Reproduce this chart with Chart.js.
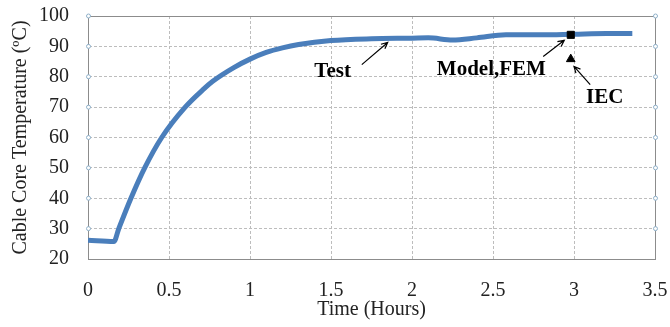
<!DOCTYPE html>
<html>
<head>
<meta charset="utf-8">
<script src="https://cdn.jsdelivr.net/npm/chart.js@4/dist/chart.umd.min.js"></script>
<style>
  html, body { margin: 0; padding: 0; background: #fff; }
  #wrap { width: 670px; height: 327px; }
</style>
</head>
<body>
<div id="wrap"><canvas id="tempChart"></canvas></div>
<script>
// measured test curve (hours, degC)
const timeHours = [0, 0.16, 0.19, 0.265, 0.35, 0.455, 0.6, 0.715, 0.77, 0.9, 1.0, 1.1, 1.2, 1.3, 1.5, 1.75, 2.0, 2.1, 2.25, 2.4, 2.58, 2.8, 3.0, 3.2, 3.36];
const testTemp  = [26.2, 25.8, 30, 40, 50, 60, 70, 76, 78.5, 83, 85.8, 88, 89.5, 90.6, 91.9, 92.5, 92.7, 92.8, 92.1, 92.8, 93.8, 93.8, 94, 94.2, 94.2];

// single-point results
const femTime = [2.98];
const femTemp = [93.8];
const iecTime = [2.98];
const iecTemp = [85.8];

const xTicks = [0, 0.5, 1, 1.5, 2, 2.5, 3, 3.5];
const yTicks = [20, 30, 40, 50, 60, 70, 80, 90, 100];

const serif = "'Liberation Serif', 'Times New Roman', serif";
const axisGray = '#8c8c8c';

// labels with arrows, in data units
const notes = [
  { text: 'Test', x: 1.51, y: 81.7, from: [1.69, 84.0], to: [1.85, 91.3] },
  { text: 'Model,FEM', x: 2.49, y: 82.4, from: [2.81, 86.7], to: [2.94, 92.0] },
  { text: 'IEC', x: 3.19, y: 73.1, from: [3.10, 77.4], to: [3.00, 83.4] }
];

const framePlugin = {
  id: 'frame',
  beforeDatasetsDraw(chart) {
    const { ctx, chartArea: a, scales } = chart;
    ctx.save();
    ctx.strokeStyle = axisGray;
    ctx.lineWidth = 1;
    ctx.strokeRect(Math.round(a.left) + 0.5, Math.round(a.top) + 0.5, Math.round(a.right - a.left), Math.round(a.bottom - a.top));
    // little hollow markers on both vertical edges
    ctx.strokeStyle = '#8fb0c9';
    ctx.fillStyle = '#fff';
    yTicks.slice(1).forEach(v => {
      const py = scales.y.getPixelForValue(v);
      [a.left, a.right].forEach(px => {
        ctx.beginPath();
        ctx.arc(Math.round(px) + 0.5, py, 2, 0, Math.PI * 2);
        ctx.fill();
        ctx.stroke();
      });
    });
    ctx.restore();
  },
  afterDraw(chart) {
    const { ctx, scales } = chart;
    const sx = scales.x, sy = scales.y;
    ctx.save();
    ctx.fillStyle = '#000';
    ctx.strokeStyle = '#000';
    ctx.lineWidth = 1.2;
    ctx.font = "bold 21px " + serif;
    ctx.textAlign = 'center';
    ctx.textBaseline = 'middle';
    notes.forEach(n => {
      ctx.fillText(n.text, sx.getPixelForValue(n.x), sy.getPixelForValue(n.y));
      const x1 = sx.getPixelForValue(n.from[0]), y1 = sy.getPixelForValue(n.from[1]);
      const x2 = sx.getPixelForValue(n.to[0]), y2 = sy.getPixelForValue(n.to[1]);
      ctx.beginPath();
      ctx.moveTo(x1, y1);
      ctx.lineTo(x2, y2);
      const ang = Math.atan2(y2 - y1, x2 - x1);
      const h = 7;
      ctx.moveTo(x2 - h * Math.cos(ang - 0.45), y2 - h * Math.sin(ang - 0.45));
      ctx.lineTo(x2, y2);
      ctx.lineTo(x2 - h * Math.cos(ang + 0.45), y2 - h * Math.sin(ang + 0.45));
      ctx.stroke();
    });
    ctx.restore();
  }
};

const ctx = document.getElementById('tempChart').getContext('2d');
new Chart(ctx, {
  type: 'scatter',
  data: {
    datasets: [
      {
        label: 'Test',
        data: timeHours.map((t, i) => ({ x: t, y: testTemp[i] })),
        showLine: true,
        borderColor: '#4a7ebb',
        borderWidth: 5,
        pointRadius: 0,
        cubicInterpolationMode: 'monotone',
        order: 2
      },
      {
        label: 'Model,FEM',
        data: femTime.map((t, i) => ({ x: t, y: femTemp[i] })),
        pointStyle: 'rect',
        pointRadius: 5,
        backgroundColor: '#000',
        borderColor: '#000',
        order: 1
      },
      {
        label: 'IEC',
        data: iecTime.map((t, i) => ({ x: t, y: iecTemp[i] })),
        pointStyle: 'triangle',
        pointRadius: 5,
        backgroundColor: '#000',
        borderColor: '#000',
        order: 1
      }
    ]
  },
  options: {
    responsive: true,
    maintainAspectRatio: false,
    animation: false,
    layout: { padding: { top: 16, right: 15, left: 0, bottom: 0 } },
    plugins: {
      legend: { display: false },
      tooltip: { enabled: false }
    },
    scales: {
      x: {
        type: 'linear',
        min: 0,
        max: 3.5,
        afterBuildTicks: axis => { axis.ticks = xTicks.map(v => ({ value: v })); },
        afterFit: axis => { axis.height = 68; axis.paddingLeft = 0; axis.paddingRight = 0; },
        grid: { color: '#bdbdbd', lineWidth: 1, drawTicks: false, tickLength: 0 },
        border: { display: true, color: axisGray, dash: [3, 2] },
        ticks: { font: { family: serif, size: 20 }, color: '#222', padding: 20, maxRotation: 0, callback: v => String(v) },
        title: { display: true, text: 'Time (Hours)', font: { family: serif, size: 20 }, color: '#222', padding: { top: 0, bottom: 5 } }
      },
      y: {
        min: 20,
        max: 100,
        afterBuildTicks: axis => { axis.ticks = yTicks.map(v => ({ value: v })); },
        afterFit: axis => { axis.width = 88; axis.paddingTop = 0; axis.paddingBottom = 0; },
        grid: { color: '#bdbdbd', lineWidth: 1, drawTicks: false, tickLength: 0 },
        border: { display: true, color: axisGray, dash: [3, 2] },
        ticks: { font: { family: serif, size: 20 }, color: '#222', padding: 19 },
        title: { display: true, text: 'Cable Core Temperature (ºC)', font: { family: serif, size: 20 }, color: '#222', padding: { top: 9, bottom: 0 } }
      }
    }
  },
  plugins: [framePlugin]
});
</script>
</body>
</html>
